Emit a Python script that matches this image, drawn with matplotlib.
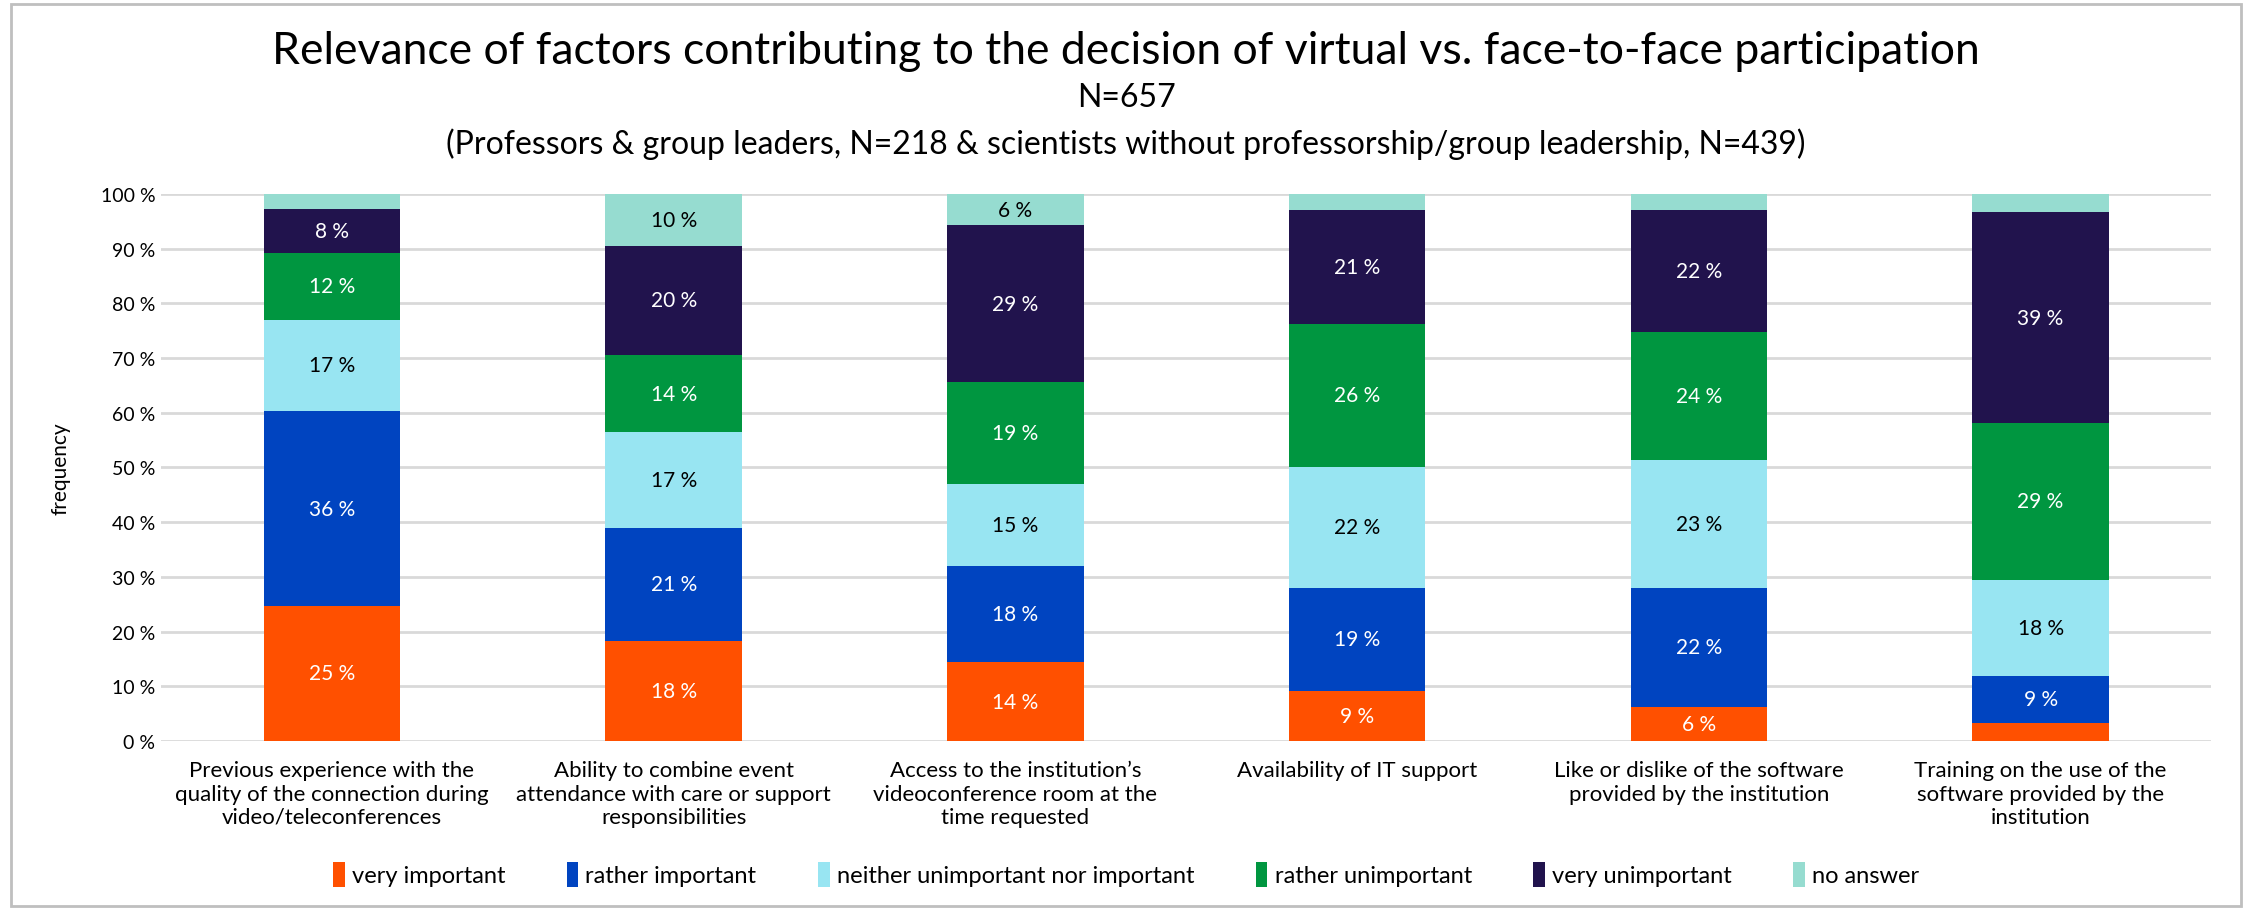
import matplotlib.pyplot as plt
import matplotlib.patches as mpatches
import numpy as np

plt.rcParams['font.family'] = ['Lato', 'DejaVu Sans']

categories = [
    "Previous experience with the\nquality of the connection during\nvideo/teleconferences",
    "Ability to combine event\nattendance with care or support\nresponsibilities",
    "Access to the institution\u2019s\nvideoconference room at the\ntime requested",
    "Availability of IT support",
    "Like or dislike of the software\nprovided by the institution",
    "Training on the use of the\nsoftware provided by the\ninstitution",
]

series_names = ["very important", "rather important",
                "neither unimportant nor important", "rather unimportant",
                "very unimportant", "no answer"]

very_important = [24.7, 18.3, 14.4, 9.2, 6.3, 3.3]
rather_important = [35.6, 20.7, 17.6, 18.8, 21.6, 8.6]
neither = [16.7, 17.4, 15.0, 22.1, 23.4, 17.6]
rather_unimportant = [12.3, 14.2, 18.6, 26.2, 23.5, 28.6]
very_unimportant = [7.9, 19.9, 28.7, 20.7, 22.2, 38.6]
no_answer = [2.8, 9.5, 5.7, 3.0, 3.0, 3.3]

colors = ["#FF5000", "#0044C0", "#98E5F2", "#009640", "#21134D", "#96DCD0"]
label_colors = ["white", "white", "black", "white", "white", "black"]

data = [very_important, rather_important, neither,
        rather_unimportant, very_unimportant, no_answer]

fig = plt.figure(figsize=(22.52, 9.12), dpi=100)
ax = fig.add_axes([0.0715, 0.1864, 0.9105, 0.5998])

x = np.arange(len(categories))
width = 0.4
bottom = np.zeros(len(categories))
for vals, name, col, lcol in zip(data, series_names, colors, label_colors):
    vals = np.array(vals)
    bars = ax.bar(x, vals, width, bottom=bottom, color=col, label=name, zorder=3)
    labels = [f"{int(v + 0.5)} %" if v >= 5 else "" for v in vals]
    ax.bar_label(bars, labels=labels, label_type='center', color=lcol,
                 fontsize=15)
    bottom += vals

ax.set_xlim(-0.5, 5.5)
ax.set_ylim(0, 100)
ax.set_yticks(np.arange(0, 101, 10))
ax.set_yticklabels([f"{v} %" for v in range(0, 101, 10)], fontsize=14)
ax.set_xticks(x, categories, fontsize=16)
ax.tick_params(axis='both', length=0)
ax.tick_params(axis='x', pad=14)
ax.tick_params(axis='y', pad=4)
ax.grid(axis='y', color='#D9D9D9', linewidth=2, zorder=0)
for s in ax.spines.values():
    s.set_visible(False)
ax.set_ylabel("frequency", fontsize=15, labelpad=22)

fig.text(0.5, 0.943, "Relevance of factors contributing to the decision of virtual vs. face-to-face participation",
         ha='center', va='center', fontsize=32)
fig.text(0.5, 0.893, "N=657", ha='center', va='center', fontsize=23)
fig.text(0.5, 0.842, "(Professors & group leaders, N=218 & scientists without professorship/group leadership, N=439)",
         ha='center', va='center', fontsize=23)

fig.legend(loc='center', bbox_to_anchor=(0.5, 0.04), ncol=6, frameon=False,
           fontsize=17, handlelength=0.5, handleheight=1.2, handletextpad=0.3,
           columnspacing=2.6)

fig.patches.append(mpatches.Rectangle((0.005, 0.006), 0.99, 0.988,
                                      transform=fig.transFigure, fill=False,
                                      edgecolor='#BFBFBF', linewidth=2))

fig.savefig("out.png", dpi=100)
